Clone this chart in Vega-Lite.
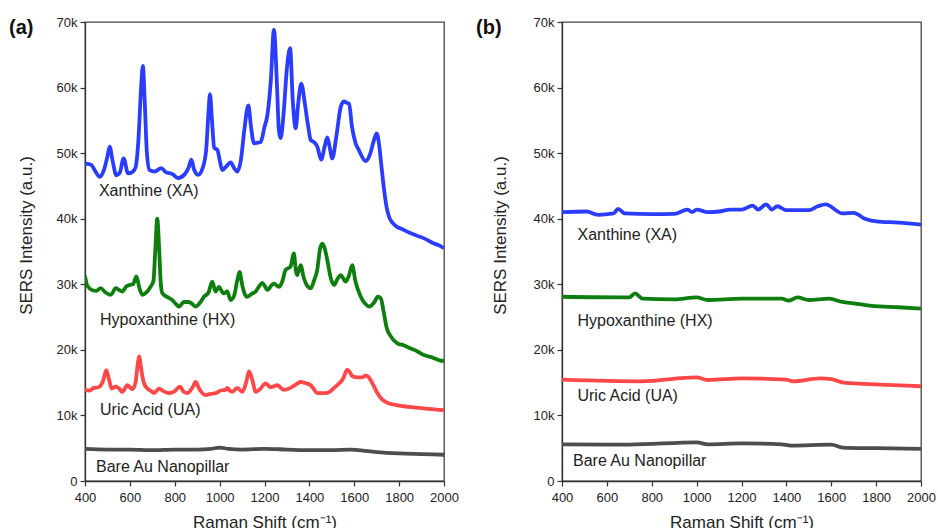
{
  "$schema": "https://vega.github.io/schema/vega-lite/v6.json",
  "background": "white",
  "padding": {"left": 8, "top": 15, "right": 5, "bottom": 0},
  "spacing": 15,
  "config": {
    "font": "Liberation Sans",
    "view": {"stroke": "#444", "strokeWidth": 1.3},
    "axis": {"labelFontSize": 13, "titleFontSize": 17, "titleFontWeight": "normal", "labelColor": "#222", "titleColor": "#222", "domainColor": "#333", "tickColor": "#333", "grid": false, "domainWidth": 1.3, "tickWidth": 1.2, "labelFlush": false, "labelOverlap": false},
    "title": {"fontSize": 20, "fontWeight": "bold", "color": "#111"}
  },
  "datasets": {
    "a": [
      {"s":"XA","x":400,"y":48500},{"s":"XA","x":406,"y":48400},{"s":"XA","x":428,"y":48200},{"s":"XA","x":445,"y":47300},{"s":"XA","x":465,"y":46400},{"s":"XA","x":485,"y":47500},{"s":"XA","x":500,"y":49500},{"s":"XA","x":510,"y":51000},{"s":"XA","x":522,"y":49000},{"s":"XA","x":540,"y":46600},{"s":"XA","x":555,"y":47000},{"s":"XA","x":572,"y":49200},{"s":"XA","x":592,"y":46900},{"s":"XA","x":610,"y":47100},{"s":"XA","x":625,"y":47800},{"s":"XA","x":638,"y":52000},{"s":"XA","x":650,"y":60000},{"s":"XA","x":658,"y":63300},{"s":"XA","x":666,"y":58000},{"s":"XA","x":676,"y":50000},{"s":"XA","x":688,"y":47400},{"s":"XA","x":710,"y":47200},{"s":"XA","x":740,"y":47700},{"s":"XA","x":760,"y":47100},{"s":"XA","x":790,"y":46800},{"s":"XA","x":814,"y":46200},{"s":"XA","x":845,"y":46800},{"s":"XA","x":862,"y":47800},{"s":"XA","x":874,"y":49000},{"s":"XA","x":886,"y":47500},{"s":"XA","x":904,"y":46700},{"s":"XA","x":925,"y":47800},{"s":"XA","x":940,"y":50500},{"s":"XA","x":950,"y":56000},{"s":"XA","x":957,"y":59000},{"s":"XA","x":966,"y":55000},{"s":"XA","x":976,"y":50800},{"s":"XA","x":990,"y":50500},{"s":"XA","x":1000,"y":49000},{"s":"XA","x":1012,"y":47400},{"s":"XA","x":1030,"y":48000},{"s":"XA","x":1049,"y":48600},{"s":"XA","x":1065,"y":47700},{"s":"XA","x":1079,"y":47200},{"s":"XA","x":1095,"y":49000},{"s":"XA","x":1110,"y":53500},{"s":"XA","x":1128,"y":57300},{"s":"XA","x":1140,"y":54000},{"s":"XA","x":1153,"y":51500},{"s":"XA","x":1170,"y":51600},{"s":"XA","x":1183,"y":51700},{"s":"XA","x":1200,"y":54000},{"s":"XA","x":1213,"y":55800},{"s":"XA","x":1228,"y":61000},{"s":"XA","x":1242,"y":68800},{"s":"XA","x":1256,"y":60000},{"s":"XA","x":1264,"y":53500},{"s":"XA","x":1272,"y":52300},{"s":"XA","x":1285,"y":56000},{"s":"XA","x":1300,"y":63000},{"s":"XA","x":1314,"y":66000},{"s":"XA","x":1326,"y":58000},{"s":"XA","x":1339,"y":53800},{"s":"XA","x":1350,"y":57500},{"s":"XA","x":1364,"y":60600},{"s":"XA","x":1380,"y":57500},{"s":"XA","x":1395,"y":54000},{"s":"XA","x":1406,"y":52000},{"s":"XA","x":1420,"y":51700},{"s":"XA","x":1435,"y":51000},{"s":"XA","x":1453,"y":49000},{"s":"XA","x":1468,"y":51000},{"s":"XA","x":1480,"y":52400},{"s":"XA","x":1490,"y":51000},{"s":"XA","x":1502,"y":49200},{"s":"XA","x":1520,"y":52500},{"s":"XA","x":1540,"y":57100},{"s":"XA","x":1554,"y":57900},{"s":"XA","x":1565,"y":57700},{"s":"XA","x":1577,"y":57500},{"s":"XA","x":1590,"y":54000},{"s":"XA","x":1606,"y":51500},{"s":"XA","x":1620,"y":50500},{"s":"XA","x":1651,"y":48800},{"s":"XA","x":1670,"y":49800},{"s":"XA","x":1688,"y":52000},{"s":"XA","x":1700,"y":53000},{"s":"XA","x":1710,"y":51500},{"s":"XA","x":1720,"y":48400},{"s":"XA","x":1733,"y":44400},{"s":"XA","x":1745,"y":41600},{"s":"XA","x":1755,"y":40300},{"s":"XA","x":1770,"y":39400},{"s":"XA","x":1785,"y":38900},{"s":"XA","x":1820,"y":38300},{"s":"XA","x":1852,"y":37800},{"s":"XA","x":1880,"y":37400},{"s":"XA","x":1911,"y":37000},{"s":"XA","x":1950,"y":36300},{"s":"XA","x":1980,"y":35900},{"s":"XA","x":2000,"y":35500},
      {"s":"HX","x":400,"y":31300},{"s":"HX","x":410,"y":29800},{"s":"HX","x":433,"y":29100},{"s":"HX","x":450,"y":29000},{"s":"HX","x":470,"y":29400},{"s":"HX","x":490,"y":28800},{"s":"HX","x":515,"y":28400},{"s":"HX","x":537,"y":29400},{"s":"HX","x":553,"y":29100},{"s":"HX","x":566,"y":28900},{"s":"HX","x":585,"y":29700},{"s":"HX","x":599,"y":29900},{"s":"HX","x":614,"y":30000},{"s":"HX","x":629,"y":31200},{"s":"HX","x":642,"y":29500},{"s":"HX","x":655,"y":28400},{"s":"HX","x":675,"y":28800},{"s":"HX","x":692,"y":29600},{"s":"HX","x":705,"y":30500},{"s":"HX","x":713,"y":35000},{"s":"HX","x":722,"y":40000},{"s":"HX","x":731,"y":35000},{"s":"HX","x":738,"y":30000},{"s":"HX","x":745,"y":28600},{"s":"HX","x":770,"y":28000},{"s":"HX","x":789,"y":27600},{"s":"HX","x":805,"y":27000},{"s":"HX","x":819,"y":26600},{"s":"HX","x":841,"y":27300},{"s":"HX","x":860,"y":27300},{"s":"HX","x":871,"y":27200},{"s":"HX","x":893,"y":26600},{"s":"HX","x":915,"y":27300},{"s":"HX","x":930,"y":28100},{"s":"HX","x":950,"y":28700},{"s":"HX","x":967,"y":30400},{"s":"HX","x":982,"y":28900},{"s":"HX","x":997,"y":29600},{"s":"HX","x":1012,"y":28800},{"s":"HX","x":1019,"y":28600},{"s":"HX","x":1034,"y":28900},{"s":"HX","x":1049,"y":27600},{"s":"HX","x":1065,"y":28300},{"s":"HX","x":1078,"y":30500},{"s":"HX","x":1089,"y":31900},{"s":"HX","x":1100,"y":30000},{"s":"HX","x":1112,"y":28500},{"s":"HX","x":1123,"y":28100},{"s":"HX","x":1145,"y":28600},{"s":"HX","x":1161,"y":28900},{"s":"HX","x":1178,"y":29800},{"s":"HX","x":1190,"y":30200},{"s":"HX","x":1202,"y":29700},{"s":"HX","x":1213,"y":29100},{"s":"HX","x":1230,"y":29800},{"s":"HX","x":1242,"y":30100},{"s":"HX","x":1265,"y":29600},{"s":"HX","x":1280,"y":30500},{"s":"HX","x":1294,"y":32200},{"s":"HX","x":1316,"y":32700},{"s":"HX","x":1331,"y":34700},{"s":"HX","x":1340,"y":32000},{"s":"HX","x":1346,"y":31400},{"s":"HX","x":1361,"y":32900},{"s":"HX","x":1375,"y":31000},{"s":"HX","x":1392,"y":29700},{"s":"HX","x":1406,"y":29400},{"s":"HX","x":1420,"y":30500},{"s":"HX","x":1435,"y":32200},{"s":"HX","x":1448,"y":35500},{"s":"HX","x":1458,"y":36200},{"s":"HX","x":1468,"y":35500},{"s":"HX","x":1480,"y":33700},{"s":"HX","x":1495,"y":31000},{"s":"HX","x":1510,"y":29900},{"s":"HX","x":1525,"y":30800},{"s":"HX","x":1540,"y":31400},{"s":"HX","x":1562,"y":30400},{"s":"HX","x":1575,"y":31200},{"s":"HX","x":1591,"y":32900},{"s":"HX","x":1605,"y":30500},{"s":"HX","x":1629,"y":28100},{"s":"HX","x":1650,"y":27000},{"s":"HX","x":1666,"y":26600},{"s":"HX","x":1690,"y":27300},{"s":"HX","x":1705,"y":28100},{"s":"HX","x":1718,"y":27900},{"s":"HX","x":1730,"y":26000},{"s":"HX","x":1745,"y":23300},{"s":"HX","x":1760,"y":22200},{"s":"HX","x":1792,"y":21000},{"s":"HX","x":1820,"y":20700},{"s":"HX","x":1852,"y":20200},{"s":"HX","x":1880,"y":19800},{"s":"HX","x":1911,"y":19200},{"s":"HX","x":1950,"y":18800},{"s":"HX","x":1980,"y":18400},{"s":"HX","x":2000,"y":18300},
      {"s":"UA","x":400,"y":13900},{"s":"UA","x":420,"y":13800},{"s":"UA","x":440,"y":14200},{"s":"UA","x":460,"y":14300},{"s":"UA","x":480,"y":15200},{"s":"UA","x":495,"y":16900},{"s":"UA","x":507,"y":15500},{"s":"UA","x":519,"y":14100},{"s":"UA","x":537,"y":14400},{"s":"UA","x":552,"y":14100},{"s":"UA","x":566,"y":13600},{"s":"UA","x":589,"y":14600},{"s":"UA","x":611,"y":14000},{"s":"UA","x":625,"y":15000},{"s":"UA","x":635,"y":17800},{"s":"UA","x":641,"y":19000},{"s":"UA","x":650,"y":17200},{"s":"UA","x":662,"y":15000},{"s":"UA","x":678,"y":14100},{"s":"UA","x":695,"y":13700},{"s":"UA","x":707,"y":13400},{"s":"UA","x":730,"y":14100},{"s":"UA","x":750,"y":13700},{"s":"UA","x":774,"y":13400},{"s":"UA","x":800,"y":13700},{"s":"UA","x":823,"y":14400},{"s":"UA","x":840,"y":13600},{"s":"UA","x":856,"y":13400},{"s":"UA","x":880,"y":14300},{"s":"UA","x":893,"y":15100},{"s":"UA","x":910,"y":14000},{"s":"UA","x":938,"y":13100},{"s":"UA","x":960,"y":13300},{"s":"UA","x":982,"y":13400},{"s":"UA","x":1005,"y":13800},{"s":"UA","x":1027,"y":13900},{"s":"UA","x":1034,"y":14200},{"s":"UA","x":1045,"y":13800},{"s":"UA","x":1056,"y":13600},{"s":"UA","x":1079,"y":14200},{"s":"UA","x":1101,"y":13600},{"s":"UA","x":1118,"y":15000},{"s":"UA","x":1131,"y":16700},{"s":"UA","x":1145,"y":15500},{"s":"UA","x":1161,"y":13600},{"s":"UA","x":1180,"y":14000},{"s":"UA","x":1205,"y":14900},{"s":"UA","x":1227,"y":14300},{"s":"UA","x":1257,"y":14600},{"s":"UA","x":1287,"y":13900},{"s":"UA","x":1310,"y":14100},{"s":"UA","x":1335,"y":14600},{"s":"UA","x":1361,"y":15100},{"s":"UA","x":1385,"y":14900},{"s":"UA","x":1406,"y":14600},{"s":"UA","x":1420,"y":14000},{"s":"UA","x":1435,"y":13400},{"s":"UA","x":1470,"y":13400},{"s":"UA","x":1490,"y":13600},{"s":"UA","x":1510,"y":14200},{"s":"UA","x":1530,"y":14800},{"s":"UA","x":1550,"y":15600},{"s":"UA","x":1569,"y":17000},{"s":"UA","x":1580,"y":16600},{"s":"UA","x":1591,"y":16000},{"s":"UA","x":1615,"y":15800},{"s":"UA","x":1636,"y":15800},{"s":"UA","x":1651,"y":16100},{"s":"UA","x":1665,"y":15800},{"s":"UA","x":1681,"y":14900},{"s":"UA","x":1700,"y":13600},{"s":"UA","x":1725,"y":12400},{"s":"UA","x":1750,"y":11900},{"s":"UA","x":1770,"y":11700},{"s":"UA","x":1820,"y":11400},{"s":"UA","x":1874,"y":11200},{"s":"UA","x":1930,"y":11000},{"s":"UA","x":2000,"y":10800},
      {"s":"Bare","x":400,"y":4900},{"s":"Bare","x":500,"y":4800},{"s":"Bare","x":600,"y":4800},{"s":"Bare","x":700,"y":4700},{"s":"Bare","x":800,"y":4800},{"s":"Bare","x":900,"y":4800},{"s":"Bare","x":960,"y":4900},{"s":"Bare","x":1000,"y":5100},{"s":"Bare","x":1040,"y":4900},{"s":"Bare","x":1100,"y":4800},{"s":"Bare","x":1200,"y":4900},{"s":"Bare","x":1300,"y":4800},{"s":"Bare","x":1400,"y":4700},{"s":"Bare","x":1500,"y":4700},{"s":"Bare","x":1580,"y":4800},{"s":"Bare","x":1620,"y":4700},{"s":"Bare","x":1700,"y":4400},{"s":"Bare","x":1800,"y":4200},{"s":"Bare","x":1900,"y":4100},{"s":"Bare","x":2000,"y":4000}
    ],
    "b": [
      {"s":"XA","x":400,"y":41000},{"s":"XA","x":510,"y":41100},{"s":"XA","x":560,"y":40600},{"s":"XA","x":630,"y":40800},{"s":"XA","x":650,"y":41500},{"s":"XA","x":680,"y":40800},{"s":"XA","x":800,"y":40700},{"s":"XA","x":900,"y":40750},{"s":"XA","x":960,"y":41400},{"s":"XA","x":980,"y":41000},{"s":"XA","x":1000,"y":41400},{"s":"XA","x":1050,"y":41000},{"s":"XA","x":1100,"y":41100},{"s":"XA","x":1150,"y":41400},{"s":"XA","x":1200,"y":41400},{"s":"XA","x":1250,"y":42000},{"s":"XA","x":1275,"y":41400},{"s":"XA","x":1310,"y":42200},{"s":"XA","x":1335,"y":41400},{"s":"XA","x":1360,"y":41900},{"s":"XA","x":1400,"y":41300},{"s":"XA","x":1500,"y":41300},{"s":"XA","x":1540,"y":41900},{"s":"XA","x":1575,"y":42200},{"s":"XA","x":1650,"y":40800},{"s":"XA","x":1700,"y":40900},{"s":"XA","x":1750,"y":40000},{"s":"XA","x":1800,"y":39600},{"s":"XA","x":1900,"y":39400},{"s":"XA","x":2000,"y":39100},
      {"s":"HX","x":400,"y":28100},{"s":"HX","x":700,"y":28000},{"s":"HX","x":725,"y":28600},{"s":"HX","x":760,"y":27800},{"s":"HX","x":900,"y":27700},{"s":"HX","x":1000,"y":28000},{"s":"HX","x":1050,"y":27600},{"s":"HX","x":1200,"y":27800},{"s":"HX","x":1380,"y":27800},{"s":"HX","x":1410,"y":27500},{"s":"HX","x":1450,"y":28000},{"s":"HX","x":1500,"y":27600},{"s":"HX","x":1590,"y":27800},{"s":"HX","x":1650,"y":27300},{"s":"HX","x":1700,"y":27100},{"s":"HX","x":1780,"y":26700},{"s":"HX","x":1900,"y":26500},{"s":"HX","x":2000,"y":26300},
      {"s":"UA","x":400,"y":15450},{"s":"UA","x":750,"y":15200},{"s":"UA","x":1000,"y":15800},{"s":"UA","x":1050,"y":15400},{"s":"UA","x":1200,"y":15650},{"s":"UA","x":1400,"y":15450},{"s":"UA","x":1430,"y":15200},{"s":"UA","x":1550,"y":15650},{"s":"UA","x":1600,"y":15550},{"s":"UA","x":1650,"y":15050},{"s":"UA","x":1750,"y":14800},{"s":"UA","x":1850,"y":14650},{"s":"UA","x":2000,"y":14450},
      {"s":"Bare","x":400,"y":5600},{"s":"Bare","x":700,"y":5550},{"s":"Bare","x":1000,"y":5900},{"s":"Bare","x":1050,"y":5600},{"s":"Bare","x":1200,"y":5750},{"s":"Bare","x":1380,"y":5600},{"s":"Bare","x":1420,"y":5400},{"s":"Bare","x":1600,"y":5550},{"s":"Bare","x":1650,"y":5100},{"s":"Bare","x":1800,"y":5000},{"s":"Bare","x":2000,"y":4900}
    ],
    "la": [
      {"t":"Xanthine (XA)","x":462,"y":44200},{"t":"Hypoxanthine (HX)","x":467,"y":24500},{"t":"Uric Acid (UA)","x":467,"y":10800},{"t":"Bare Au Nanopillar","x":449,"y":2200}
    ],
    "lb": [
      {"t":"Xanthine (XA)","x":469,"y":37500},{"t":"Hypoxanthine (HX)","x":469,"y":24400},{"t":"Uric Acid (UA)","x":469,"y":12900},{"t":"Bare Au Nanopillar","x":449,"y":3000}
    ]
  },
  "hconcat": [
    {
      "width": 359, "height": 459,
      "title": {"text": "(a)", "anchor": "start", "frame": "group", "dx": -76, "dy": 26},
      "layer": [
        {
          "data": {"name": "a"},
          "mark": {"type": "line", "strokeWidth": 3.8, "interpolate": "monotone", "clip": true},
          "encoding": {
            "x": {"field": "x", "type": "quantitative", "scale": {"domain": [400, 2000], "nice": false},
                  "axis": {"title": "Raman Shift (cm⁻¹)", "values": [400,500,600,700,800,900,1000,1100,1200,1300,1400,1500,1600,1700,1800,1900,2000], "labelExpr": "datum.value % 200 ? '' : datum.value", "tickSize": {"condition": {"test": "datum.value % 200", "value": 3}, "value": 5}, "labelPadding": 5, "titlePadding": 10}},
            "y": {"field": "y", "type": "quantitative", "scale": {"domain": [0, 70000], "nice": false},
                  "axis": {"title": "SERS Intensity (a.u.)", "values": [0,5000,10000,15000,20000,25000,30000,35000,40000,45000,50000,55000,60000,65000,70000], "labelExpr": "datum.value % 10000 ? '' : (datum.value == 0 ? '0' : (datum.value/1000) + 'k')", "tickSize": {"condition": {"test": "datum.value % 10000", "value": 3}, "value": 5}, "labelPadding": 3, "titlePadding": 21, "titleY": 213}},
            "color": {"field": "s", "type": "nominal", "scale": {"domain": ["XA","HX","UA","Bare"], "range": ["#2A3DFF","#0E7F0E","#FF4747","#4D4D4D"]}, "legend": null}
          }
        },
        {
          "data": {"name": "la"},
          "mark": {"type": "text", "align": "left", "baseline": "middle", "fontSize": 16, "color": "#222"},
          "encoding": {"x": {"field": "x", "type": "quantitative"}, "y": {"field": "y", "type": "quantitative"}, "text": {"field": "t"}}
        }
      ]
    },
    {
      "width": 359, "height": 459,
      "title": {"text": "(b)", "anchor": "start", "frame": "group", "dx": -86, "dy": 26},
      "layer": [
        {
          "data": {"name": "b"},
          "mark": {"type": "line", "strokeWidth": 3.8, "interpolate": "monotone", "clip": true},
          "encoding": {
            "x": {"field": "x", "type": "quantitative", "scale": {"domain": [400, 2000], "nice": false},
                  "axis": {"title": "Raman Shift (cm⁻¹)", "values": [400,500,600,700,800,900,1000,1100,1200,1300,1400,1500,1600,1700,1800,1900,2000], "labelExpr": "datum.value % 200 ? '' : datum.value", "tickSize": {"condition": {"test": "datum.value % 200", "value": 3}, "value": 5}, "labelPadding": 5, "titlePadding": 10}},
            "y": {"field": "y", "type": "quantitative", "scale": {"domain": [0, 70000], "nice": false},
                  "axis": {"title": "SERS Intensity (a.u.)", "values": [0,5000,10000,15000,20000,25000,30000,35000,40000,45000,50000,55000,60000,65000,70000], "labelExpr": "datum.value % 10000 ? '' : (datum.value == 0 ? '0' : (datum.value/1000) + 'k')", "tickSize": {"condition": {"test": "datum.value % 10000", "value": 3}, "value": 5}, "labelPadding": 3, "titlePadding": 24, "titleY": 213}},
            "color": {"field": "s", "type": "nominal", "scale": {"domain": ["XA","HX","UA","Bare"], "range": ["#2A3DFF","#0E7F0E","#FF4747","#4D4D4D"]}, "legend": null}
          }
        },
        {
          "data": {"name": "lb"},
          "mark": {"type": "text", "align": "left", "baseline": "middle", "fontSize": 16, "color": "#222"},
          "encoding": {"x": {"field": "x", "type": "quantitative"}, "y": {"field": "y", "type": "quantitative"}, "text": {"field": "t"}}
        }
      ]
    }
  ]
}
